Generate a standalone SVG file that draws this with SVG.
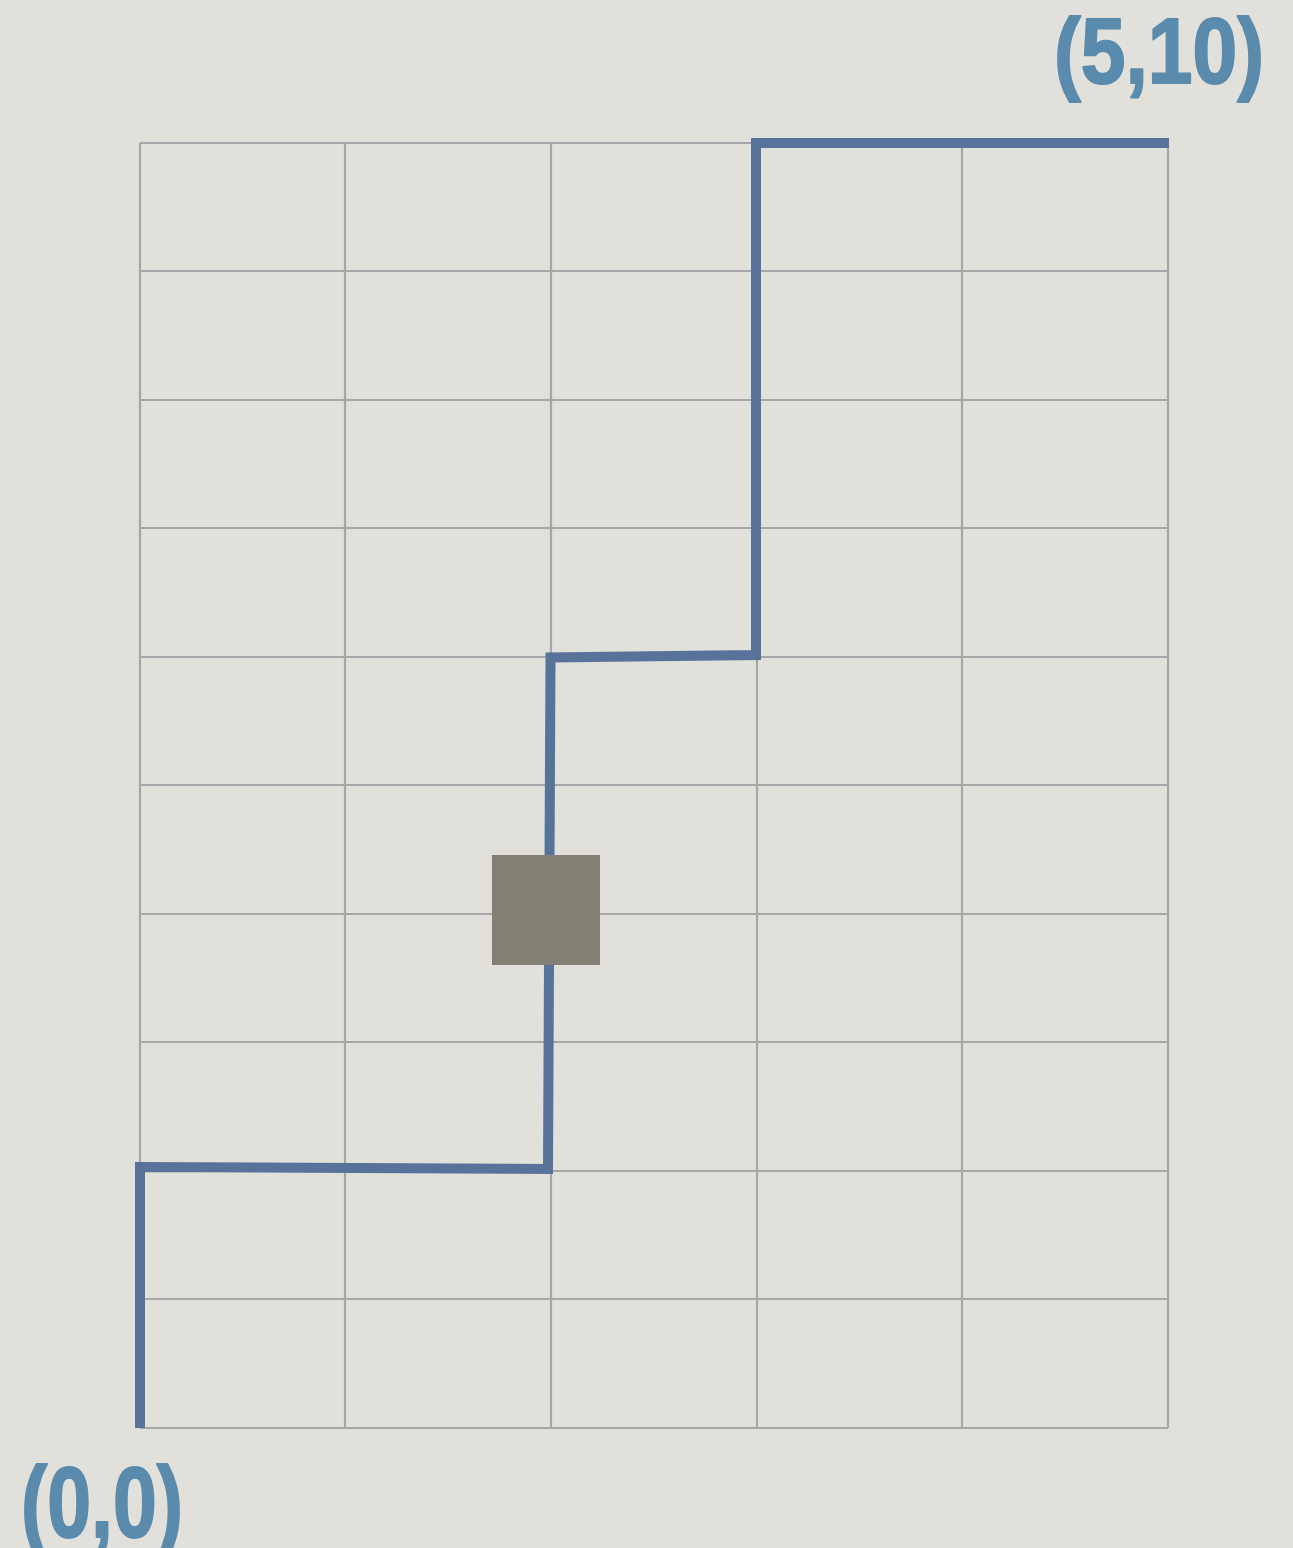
<svg xmlns="http://www.w3.org/2000/svg" width="1293" height="1548" viewBox="0 0 1293 1548">
<style>
.grid line{stroke:#a6a6a9;stroke-width:2.2}
.lbl{font-family:"Liberation Sans","DejaVu Sans",sans-serif;font-weight:bold;fill:#5a8bac;stroke:#5a8bac;stroke-width:2;stroke-linejoin:round}
.route{fill:none;stroke:#587399;stroke-width:10;stroke-linejoin:miter;stroke-linecap:butt}
</style>
<rect width="1293" height="1548" fill="#e1e0db"/>
<g id="grid" class="grid">
<line x1="140" y1="143" x2="140" y2="1428"/>
<line x1="345" y1="143" x2="345" y2="1428"/>
<line x1="551" y1="143" x2="551" y2="1428"/>
<line x1="757" y1="143" x2="757" y2="1428"/>
<line x1="962" y1="143" x2="962" y2="1428"/>
<line x1="1168" y1="143" x2="1168" y2="1428"/>
<line x1="140" y1="143" x2="1168" y2="143"/>
<line x1="140" y1="271" x2="1168" y2="271"/>
<line x1="140" y1="400" x2="1168" y2="400"/>
<line x1="140" y1="528" x2="1168" y2="528"/>
<line x1="140" y1="657" x2="1168" y2="657"/>
<line x1="140" y1="785" x2="1168" y2="785"/>
<line x1="140" y1="914" x2="1168" y2="914"/>
<line x1="140" y1="1042" x2="1168" y2="1042"/>
<line x1="140" y1="1171" x2="1168" y2="1171"/>
<line x1="140" y1="1299" x2="1168" y2="1299"/>
<line x1="140" y1="1428" x2="1168" y2="1428"/>
</g>
<g id="connectors">
<path class="route" d="M140,1428 L140,1167 L548,1169 L550.5,657.5 L756,655 L756,143 L1169,143"/>
</g>
<g id="obstacle">
<rect x="492" y="855" width="108" height="110" fill="#847f74"/>
</g>
<g id="label-end">
<text class="lbl" x="1054" y="83" font-size="92" textLength="210" lengthAdjust="spacingAndGlyphs">(5,10)</text>
</g>
<g id="label-start">
<text class="lbl" x="21" y="1537" font-size="100" textLength="162" lengthAdjust="spacingAndGlyphs">(0,0)</text>
</g>
</svg>
